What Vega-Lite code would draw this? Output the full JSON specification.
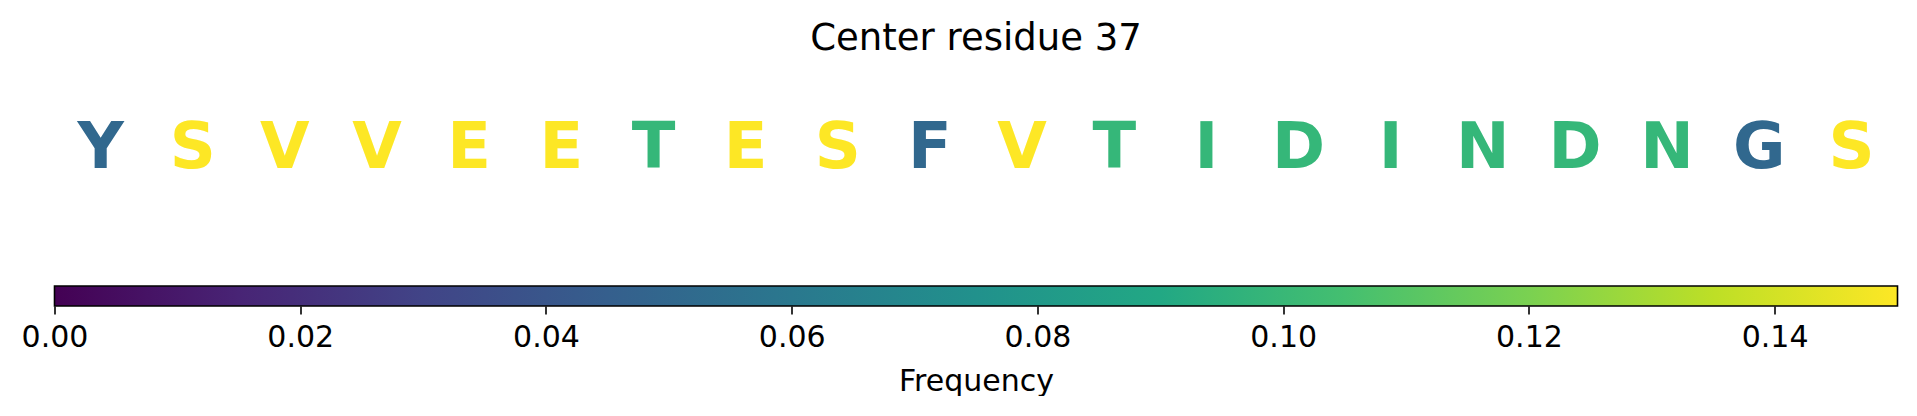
{
  "$schema": "https://vega.github.io/schema/vega-lite/v6.json",
  "padding": {"left": 20.5, "top": 20, "right": 0, "bottom": 0},
  "background": "white",
  "config": {"view": {"stroke": null}, "font": "DejaVu Sans"},
  "spacing": 11,
  "vconcat": [
    {
      "width": 1843,
      "height": 212,
      "title": {"text": "Center residue 37", "fontSize": 37, "fontWeight": "normal", "font": "DejaVu Sans", "color": "black", "offset": 4, "anchor": "middle"},
      "data": {"values": [
        {"pos": 0, "letter": "Y", "freq": 0.05},
        {"pos": 1, "letter": "S", "freq": 0.15},
        {"pos": 2, "letter": "V", "freq": 0.15},
        {"pos": 3, "letter": "V", "freq": 0.15},
        {"pos": 4, "letter": "E", "freq": 0.15},
        {"pos": 5, "letter": "E", "freq": 0.15},
        {"pos": 6, "letter": "T", "freq": 0.10},
        {"pos": 7, "letter": "E", "freq": 0.15},
        {"pos": 8, "letter": "S", "freq": 0.15},
        {"pos": 9, "letter": "F", "freq": 0.05},
        {"pos": 10, "letter": "V", "freq": 0.15},
        {"pos": 11, "letter": "T", "freq": 0.10},
        {"pos": 12, "letter": "I", "freq": 0.10},
        {"pos": 13, "letter": "D", "freq": 0.10},
        {"pos": 14, "letter": "I", "freq": 0.10},
        {"pos": 15, "letter": "N", "freq": 0.10},
        {"pos": 16, "letter": "D", "freq": 0.10},
        {"pos": 17, "letter": "N", "freq": 0.10},
        {"pos": 18, "letter": "G", "freq": 0.05},
        {"pos": 19, "letter": "S", "freq": 0.15}
      ]},
      "mark": {"type": "text", "font": "DejaVu Sans", "fontWeight": "bold", "fontSize": 64, "baseline": "alphabetic", "align": "center"},
      "encoding": {
        "x": {"field": "pos", "type": "ordinal", "scale": {"paddingInner": 0, "paddingOuter": 0}, "axis": null},
        "text": {"field": "letter", "type": "nominal"},
        "color": {"field": "freq", "type": "quantitative", "scale": {"scheme": "viridis", "domain": [0, 0.15], "clamp": true}, "legend": null}
      }
    },
    {
      "width": 1843,
      "height": 20,
      "data": {"values": [{"lo": 0, "hi": 0.15}]},
      "mark": {
        "type": "rect",
        "stroke": "black",
        "strokeWidth": 1.6,
        "fill": {"gradient": "linear", "x1": 0, "x2": 1, "y1": 0, "y2": 0, "stops": [
          {"offset": 0.0, "color": "#440154"},
          {"offset": 0.1, "color": "#482475"},
          {"offset": 0.2, "color": "#414487"},
          {"offset": 0.3, "color": "#355f8d"},
          {"offset": 0.4, "color": "#2a788e"},
          {"offset": 0.5, "color": "#21918c"},
          {"offset": 0.6, "color": "#22a884"},
          {"offset": 0.7, "color": "#44bf70"},
          {"offset": 0.8, "color": "#7ad151"},
          {"offset": 0.9, "color": "#bddf26"},
          {"offset": 1.0, "color": "#fde725"}
        ]}
      },
      "encoding": {
        "x": {
          "field": "lo", "type": "quantitative",
          "scale": {"domain": [0, 0.15], "nice": false, "zero": false},
          "axis": {
            "values": [0, 0.02, 0.04, 0.06, 0.08, 0.10, 0.12, 0.14],
            "format": ".2f",
            "domain": false, "grid": false, "labelFlush": false,
            "ticks": true, "tickSize": 8, "tickColor": "black", "tickWidth": 1.6,
            "labelFontSize": 30, "labelColor": "black", "labelFont": "DejaVu Sans", "labelPadding": 8.5,
            "title": "Frequency", "titleFontSize": 30, "titleFontWeight": "normal", "titleColor": "black", "titleFont": "DejaVu Sans", "titlePadding": 13.5
          }
        },
        "x2": {"field": "hi"}
      }
    }
  ]
}
